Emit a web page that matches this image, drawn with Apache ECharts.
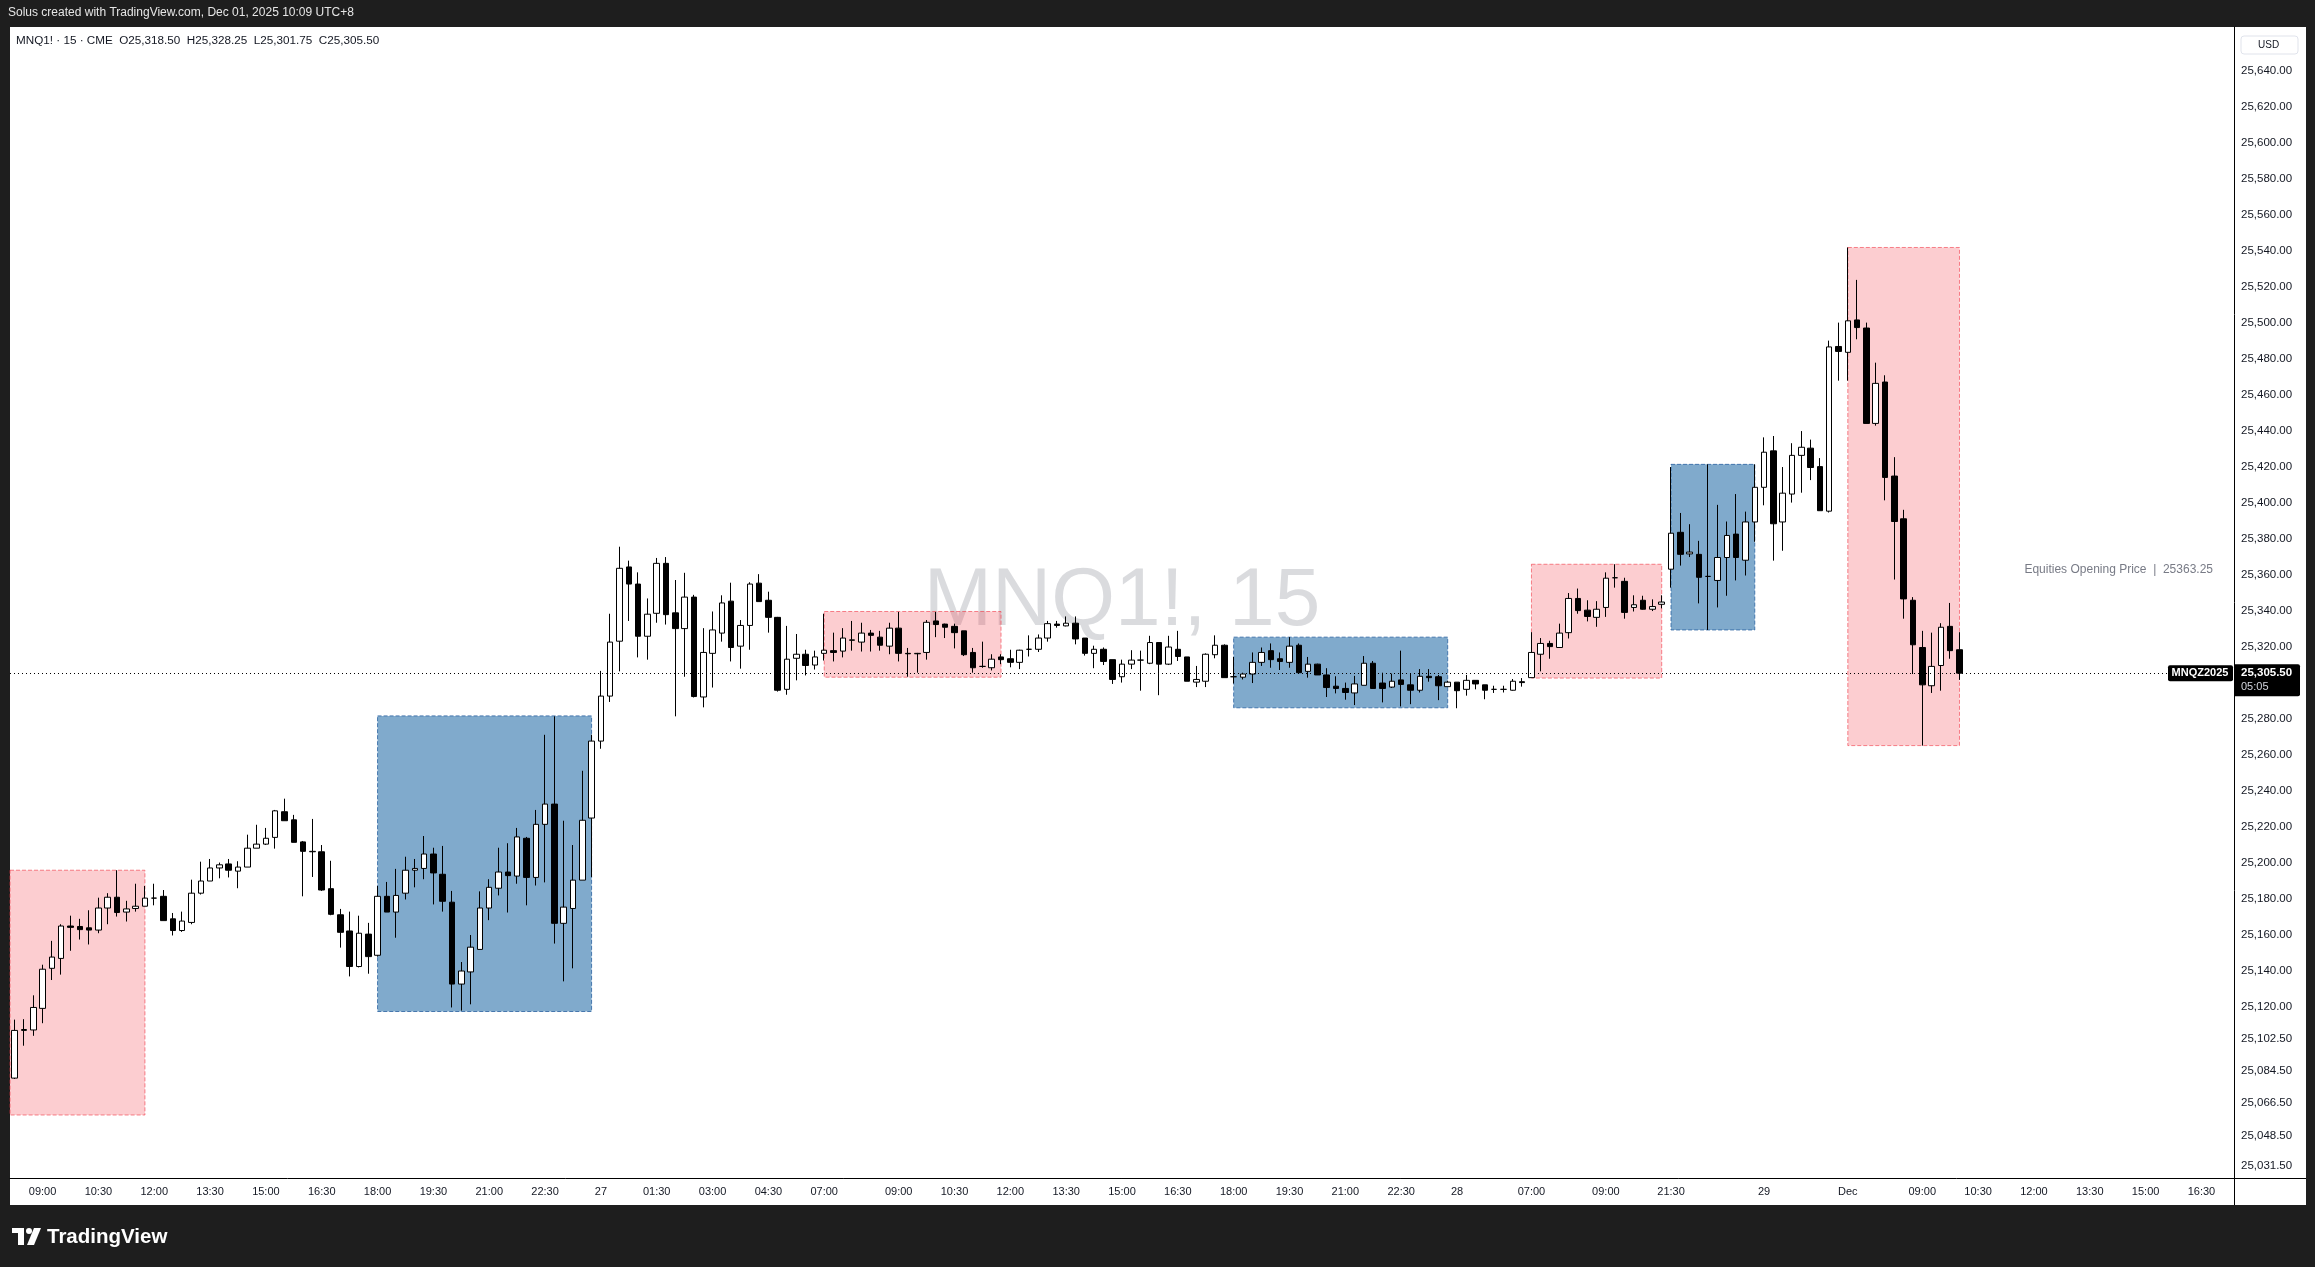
<!DOCTYPE html>
<html>
<head>
<meta charset="utf-8">
<title>MNQ1! · 15 · CME</title>
<script src="https://cdn.jsdelivr.net/npm/echarts@6/dist/echarts.min.js"></script>
<style>
  html, body { margin: 0; padding: 0; background: #1e1e1e; overflow: hidden; }
  #panel { position: absolute; left: 10px; top: 27px; width: 2296px; height: 1178px; background: #ffffff; }
  #chart { position: absolute; left: 0; top: 0; width: 2315px; height: 1267px; }
</style>
</head>
<body>
<div id="panel"></div>
<div id="chart"></div>
<script>
// trading sessions on the chart (UTC+8), 15 minute bars; last session includes empty future slots
const sessionStarts = ['2025-11-26 08:15', '2025-11-27 07:00', '2025-11-28 07:00', '2025-11-28 21:30', '2025-12-01 07:00'];
const sessionBarCounts = [87, 76, 15, 19, 42];

// OHLC per bar: [open, high, low, close]
const bars = [
  [25080.5, 25113, 25080, 25107], [25107, 25113.25, 25098.5, 25107.5], [25107.25, 25126.5, 25104, 25119.75],
  [25119.25, 25143.5, 25111, 25141], [25141.5, 25156.75, 25135, 25147.75], [25147, 25166, 25138, 25165],
  [25165, 25170.75, 25151.25, 25164.25], [25164.75, 25169, 25157.5, 25163], [25164, 25173.75, 25154.75, 25162.75],
  [25162.75, 25180.75, 25161, 25175], [25175, 25183.25, 25166, 25181], [25181, 25196, 25170.25, 25172.5],
  [25172.75, 25179, 25167.5, 25174.5], [25174.75, 25188.5, 25173, 25176], [25176, 25187.25, 25176, 25180.5],
  [25180.5, 25188.5, 25176.5, 25180.5], [25181.5, 25185, 25168, 25168], [25169, 25172.25, 25159.75, 25162.5],
  [25162.5, 25173, 25161.75, 25167.75], [25167, 25190.75, 25166, 25183.25], [25183.25, 25200.75, 25182.5, 25190],
  [25190, 25202.25, 25190, 25197.25], [25197.25, 25200.25, 25191.5, 25199], [25199.5, 25202.25, 25192, 25196],
  [25195.5, 25201, 25186, 25197.75], [25197.75, 25215.75, 25197.75, 25208.25], [25208.25, 25221.25, 25208.25, 25210.5],
  [25210.5, 25219.5, 25210, 25213.75], [25214.25, 25229.5, 25208, 25229], [25228.5, 25235.75, 25223.5, 25223.5],
  [25224, 25226.75, 25211.5, 25211.5], [25211.75, 25212.25, 25181.5, 25206.5], [25206.25, 25224.5, 25192.25, 25206.5],
  [25206.25, 25210, 25184.5, 25185], [25185.75, 25201.25, 25171, 25171.5], [25171.25, 25174.5, 25153, 25161.5],
  [25162.25, 25173, 25137, 25142.5], [25142.5, 25170.75, 25142, 25161], [25160.5, 25166.75, 25138.5, 25148],
  [25148.75, 25187.25, 25148, 25181.5], [25181.5, 25189.5, 25172.75, 25172.75], [25172.75, 25196.75, 25158.5, 25182],
  [25183.25, 25203.5, 25179.75, 25196], [25196, 25202.25, 25186.5, 25197], [25197, 25215, 25191, 25205],
  [25205, 25208.5, 25177, 25194.5], [25193.75, 25209.5, 25173, 25178.75], [25178.25, 25184.5, 25119.75, 25132.75],
  [25132.75, 25145, 25118, 25140], [25139.5, 25160, 25121.5, 25153.25], [25152, 25184.25, 25152, 25175],
  [25175, 25191, 25168.25, 25186.5], [25186, 25208.5, 25182, 25195], [25195, 25211, 25172.5, 25193],
  [25192.75, 25219.5, 25188.5, 25214.5], [25213.75, 25214.5, 25176.5, 25192], [25192, 25229.5, 25187.5, 25221.5],
  [25221.5, 25271.25, 25189.25, 25232.75], [25232.75, 25281.5, 25155.25, 25166.5], [25166.5, 25223.5, 25134.25, 25175.5],
  [25174.75, 25210, 25141.5, 25190.5], [25190.5, 25251.25, 25190.5, 25223.75], [25225, 25271.25, 25192.25, 25267.75],
  [25267.75, 25306.75, 25263.5, 25292.75], [25292.75, 25338.5, 25289.5, 25322.75], [25323.25, 25375.75, 25306.5, 25363.75],
  [25364.5, 25368, 25334.5, 25355], [25355, 25361.5, 25314.25, 25326], [25326, 25347, 25313, 25338.25],
  [25338.75, 25369.5, 25333.5, 25366.5], [25366.5, 25370, 25332.5, 25338], [25339, 25357.25, 25281.5, 25330.25],
  [25330.25, 25361.25, 25303.5, 25347.75], [25347.75, 25349, 25292, 25292.5], [25292.25, 25330.5, 25286.5, 25317],
  [25316.5, 25339.75, 25297.5, 25329.5], [25327.75, 25348.75, 25323, 25344.5], [25345.5, 25355.75, 25312, 25319.75],
  [25320.5, 25335, 25308, 25332], [25332, 25356, 25318.5, 25355], [25355.5, 25360.5, 25345.25, 25345.25],
  [25346, 25350.75, 25328, 25336.5], [25336.5, 25336.75, 25295.25, 25296], [25296.5, 25331.75, 25293.5, 25313.25],
  [25313.75, 25327.25, 25301.5, 25316], [25316, 25318.5, 25304.25, 25309.75], [25310, 25318, 25307.5, 25314.5],
  [25316.5, 25338.5, 25312.5, 25318.25], [25318, 25328, 25312, 25317], [25317.75, 25330.5, 25314.25, 25325],
  [25323.75, 25334.5, 25318, 25324], [25322.75, 25333.5, 25317.5, 25327.75], [25327.75, 25329.5, 25317.5, 25326.5],
  [25325.5, 25329, 25318, 25321], [25320.5, 25333.5, 25316, 25330.5], [25330.5, 25339.5, 25312, 25316.5],
  [25316.5, 25319.5, 25303.5, 25316.25], [25316.25, 25316.75, 25305.75, 25316.5], [25317, 25335, 25313, 25333.75],
  [25334.5, 25339.5, 25325.5, 25332.5], [25332.75, 25333, 25325, 25331], [25331.5, 25333, 25319.25, 25328],
  [25329, 25329, 25315, 25315.75], [25317, 25319.5, 25305.75, 25308.5], [25309.25, 25323, 25308.5, 25309.25],
  [25308.5, 25316, 25307, 25313.25], [25314.5, 25316, 25310.5, 25313], [25313.5, 25318.5, 25308.75, 25311.5],
  [25311.5, 25318.5, 25307.75, 25318.25], [25318.75, 25326.5, 25314.75, 25318.75], [25318.75, 25327, 25317.25, 25325],
  [25325, 25334.5, 25323, 25333], [25332.75, 25334.5, 25330.75, 25332], [25331.75, 25337, 25331.5, 25333.25],
  [25333.25, 25337, 25321.5, 25324.5], [25325, 25325, 25315.25, 25316.5], [25316.5, 25320.75, 25308.25, 25318.75],
  [25318.75, 25319.75, 25310, 25312], [25313, 25313, 25299.5, 25302], [25303.5, 25313, 25300.25, 25310.5],
  [25310.5, 25318.25, 25307.75, 25312.75], [25312.75, 25318, 25295.75, 25312.75], [25311, 25326.25, 25310.5, 25322.5],
  [25322.5, 25322.5, 25293.25, 25310.5], [25310.5, 25326.25, 25310, 25320], [25318.75, 25329, 25312.25, 25314.75],
  [25314.5, 25314.5, 25301, 25301], [25300.5, 25309.5, 25297.75, 25302], [25301, 25316.5, 25297.75, 25316],
  [25315.75, 25326.5, 25313.75, 25321], [25321, 25321.5, 25303, 25303], [25303.5, 25314.5, 25299.75, 25303.5],
  [25303.25, 25305.75, 25302, 25305], [25305, 25317, 25300, 25311.5], [25311.5, 25319.75, 25309.5, 25317],
  [25318, 25322, 25308.5, 25313], [25313.5, 25317, 25307.25, 25312], [25311.5, 25325.5, 25308.5, 25320.5],
  [25321, 25322, 25305.75, 25305.75], [25306.5, 25314.5, 25303, 25310.5], [25310.5, 25310.75, 25304.5, 25304.5],
  [25304.5, 25308.25, 25292.25, 25297.5], [25298.25, 25303.75, 25294.25, 25297], [25297, 25300.25, 25290.75, 25294.75],
  [25294.5, 25304, 25287.75, 25299.5], [25298.75, 25315, 25298.75, 25311], [25311, 25312.25, 25297, 25297],
  [25300, 25305.75, 25289.25, 25297], [25297.75, 25305.25, 25297.25, 25301], [25301.75, 25318, 25287, 25299.25],
  [25299, 25305, 25288.25, 25296], [25296, 25307.75, 25294.75, 25303.75], [25303.75, 25307.75, 25300.75, 25303],
  [25303.5, 25304.5, 25290.5, 25298.5], [25298, 25301.25, 25298, 25300.5], [25300.5, 25300.5, 25286, 25295.75],
  [25296.5, 25304.5, 25293, 25301.5], [25301.5, 25301.5, 25296.5, 25299.5], [25299, 25299, 25291, 25296],
  [25296.5, 25298.5, 25294.5, 25296.5], [25296.5, 25298.5, 25294.75, 25296.5], [25296, 25302.25, 25295.75, 25301],
  [25300.75, 25302.75, 25298, 25300.25], [25303, 25328.25, 25303, 25317], [25316, 25325, 25306.5, 25322],
  [25322, 25323.5, 25313.5, 25320.25], [25319.75, 25333, 25319.75, 25327.75], [25328, 25350, 25324.75, 25347],
  [25347, 25352.5, 25338.5, 25340.25], [25340.5, 25346, 25334.25, 25337], [25336.5, 25345.5, 25331.25, 25341],
  [25342, 25361.5, 25336.75, 25358.25], [25358.5, 25366, 25353, 25358.5], [25356.5, 25358.5, 25335.75, 25339.25],
  [25342, 25348.75, 25339.75, 25343.5], [25346, 25348.5, 25340.75, 25341], [25341, 25346.5, 25340, 25342.5],
  [25343.75, 25348.75, 25341.5, 25345], [25363.25, 25420, 25353, 25383.25], [25383.75, 25394.5, 25365.25, 25371.5],
  [25371.75, 25388.25, 25370, 25372.75], [25371.5, 25379, 25344.25, 25358.75], [25359.25, 25421.5, 25329.5, 25359.25],
  [25357, 25399, 25342, 25369.75], [25369.75, 25389.75, 25348.5, 25382], [25382.75, 25405, 25357, 25369.75],
  [25368.25, 25395.25, 25359.75, 25389.5], [25389.5, 25421.5, 25378.5, 25408.75], [25408.75, 25436.5, 25398.75, 25428.25],
  [25429, 25437.25, 25368, 25388.5], [25389.5, 25420, 25373.5, 25405.5], [25405, 25433.25, 25400.25, 25426.5],
  [25426.5, 25440, 25405.75, 25431], [25430.5, 25435.25, 25412.75, 25419.75], [25420.25, 25425, 25395.75, 25395.75],
  [25395.5, 25490.25, 25394.75, 25486.75], [25487, 25500.25, 25468, 25484.25], [25483.75, 25542, 25468, 25501.25],
  [25501.75, 25524, 25491, 25497.5], [25497.25, 25500.25, 25444.25, 25444.25], [25444.25, 25478, 25443, 25466.5],
  [25467.25, 25471, 25401.5, 25414.25], [25415, 25425.5, 25357.5, 25389.75], [25391.25, 25396.25, 25335.75, 25346.75],
  [25346, 25347.75, 25305, 25321.25], [25319.75, 25329, 25265.25, 25299], [25298.5, 25328, 25294.5, 25309.25],
  [25309.75, 25333.25, 25295.75, 25331], [25331.5, 25344.5, 25313.5, 25318], [25318.5, 25328.25, 25301.75, 25305.5]
];

// time axis labels shown under the chart
const xTickLabels = [
  ['11-26 09:00', '09:00'], ['11-26 10:30', '10:30'], ['11-26 12:00', '12:00'], ['11-26 13:30', '13:30'],
  ['11-26 15:00', '15:00'], ['11-26 16:30', '16:30'], ['11-26 18:00', '18:00'], ['11-26 19:30', '19:30'],
  ['11-26 21:00', '21:00'], ['11-26 22:30', '22:30'], ['11-27 00:00', '27'], ['11-27 01:30', '01:30'],
  ['11-27 03:00', '03:00'], ['11-27 04:30', '04:30'], ['11-27 07:00', '07:00'], ['11-27 09:00', '09:00'],
  ['11-27 10:30', '10:30'], ['11-27 12:00', '12:00'], ['11-27 13:30', '13:30'], ['11-27 15:00', '15:00'],
  ['11-27 16:30', '16:30'], ['11-27 18:00', '18:00'], ['11-27 19:30', '19:30'], ['11-27 21:00', '21:00'],
  ['11-27 22:30', '22:30'], ['11-28 00:00', '28'], ['11-28 07:00', '07:00'], ['11-28 09:00', '09:00'],
  ['11-28 21:30', '21:30'], ['11-29 00:00', '29'], ['12-01 07:00', 'Dec'], ['12-01 09:00', '09:00'],
  ['12-01 10:30', '10:30'], ['12-01 12:00', '12:00'], ['12-01 13:30', '13:30'], ['12-01 15:00', '15:00'],
  ['12-01 16:30', '16:30']
];

// price scale labels
const priceTicks = [25031.5, 25048.5, 25066.5, 25084.5, 25102.5, 25120, 25140, 25160, 25180, 25200, 25220,
  25240, 25260, 25280, 25320, 25340, 25360, 25380, 25400, 25420, 25440, 25460, 25480, 25500, 25520, 25540,
  25560, 25580, 25600, 25620, 25640];
const priceMin = 25025;
const priceMax = 25664.5;

// session boxes (null start = begins before the visible range)
const boxStarts = [null, '11-26 18:00', '11-27 07:00', '11-27 18:00', '11-28 07:00', '11-28 21:30', '12-01 07:00'];
const boxEnds = ['11-26 11:45', '11-26 23:45', '11-27 11:45', '11-27 23:45', '11-28 10:30', '11-28 23:45', '12-01 10:00'];
const boxLows = [25060, 25117.5, 25303.25, 25286.25, 25302.75, 25329.5, 25265.25];
const boxHighs = [25196, 25281.75, 25339.75, 25325.5, 25366, 25421.5, 25542];
const boxKinds = ['pink', 'blue', 'pink', 'blue', 'pink', 'blue', 'pink'];

const equitiesOpen = 25363.25;

const FONT = '"Liberation Sans", Arial, sans-serif';

function pad(n) { return (n < 10 ? '0' : '') + n; }

function buildCategories() {
  const cats = [];
  sessionStarts.forEach((s, k) => {
    const parts = s.split(/[- :]/).map(Number);
    let ms = Date.UTC(parts[0], parts[1] - 1, parts[2], parts[3], parts[4]);
    for (let n = 0; n < sessionBarCounts[k]; n++) {
      const dt = new Date(ms);
      cats.push(pad(dt.getUTCMonth() + 1) + '-' + pad(dt.getUTCDate()) + ' ' + pad(dt.getUTCHours()) + ':' + pad(dt.getUTCMinutes()));
      ms += 15 * 60000;
    }
  });
  return cats;
}

function fmtPrice(v) {
  const s = Number(v).toFixed(2).split('.');
  return s[0].replace(/\B(?=(\d{3})+(?!\d))/g, ',') + '.' + s[1];
}

const categories = buildCategories();
const tickText = new Map(xTickLabels);
const candleData = bars.map(b => [b[0], b[3], b[2], b[1]]);
const last = bars[bars.length - 1];

const boxStyles = {
  pink: { color: 'rgba(242, 54, 69, 0.25)', borderColor: 'rgba(242, 54, 69, 0.6)' },
  blue: { color: 'rgba(74, 134, 183, 0.7)', borderColor: 'rgba(41, 98, 160, 0.8)' }
};
const boxAreas = boxStarts.map((s, k) => {
  const st = boxStyles[boxKinds[k]];
  const lt = { yAxis: boxHighs[k], itemStyle: { color: st.color, borderColor: st.borderColor, borderWidth: 1, borderType: 'dashed' } };
  if (s) lt.xAxis = s;
  return [lt, { xAxis: boxEnds[k], yAxis: boxLows[k] }];
});

const headerText = 'MNQ1! \u00b7 15 \u00b7 CME  O' + fmtPrice(last[0]) + '  H' + fmtPrice(last[1]) +
  '  L' + fmtPrice(last[2]) + '  C' + fmtPrice(last[3]);

const chartDom = document.getElementById('chart');
const myChart = echarts.init(chartDom, null, { renderer: 'canvas' });

const option = {
  backgroundColor: 'transparent',
  animation: false,
  grid: { left: 10, right: 81, top: 27, bottom: 89, containLabel: false },
  xAxis: {
    type: 'category',
    data: categories,
    boundaryGap: true,
    axisLine: { show: true, lineStyle: { color: '#000000', width: 1 } },
    axisTick: { show: false },
    splitLine: { show: false },
    axisLabel: {
      interval: (idx, value) => tickText.has(value),
      formatter: value => tickText.get(value) || '',
      color: '#131722',
      fontSize: 11,
      fontFamily: FONT,
      margin: 8
    }
  },
  yAxis: {
    type: 'value',
    position: 'right',
    min: priceMin,
    max: priceMax,
    axisLine: { show: true, lineStyle: { color: '#000000', width: 1 } },
    axisTick: { show: false },
    splitLine: { show: false },
    axisLabel: {
      customValues: priceTicks,
      formatter: v => fmtPrice(v),
      color: '#131722',
      fontSize: 11.5,
      fontFamily: FONT,
      margin: 7
    }
  },
  graphic: {
    elements: [
      { type: 'text', id: 'credit', x: 8, y: 13, z: 10,
        style: { text: 'Solus created with TradingView.com, Dec 01, 2025 10:09 UTC+8', fill: '#e6e6e6', font: '12px ' + FONT, textVerticalAlign: 'middle' } },
      { type: 'text', id: 'ohlc', x: 16, y: 41, z: 10,
        style: { text: headerText, fill: '#131722', font: '11.7px ' + FONT, textVerticalAlign: 'middle' } },
      { type: 'text', id: 'watermark', x: 1122, y: 602, z: 0,
        style: { text: 'MNQ1!, 15', fill: 'rgba(120, 123, 134, 0.27)', font: '82px ' + FONT, textAlign: 'center', textVerticalAlign: 'middle' } },
      { type: 'rect', id: 'usdBox', z: 10, shape: { x: 2241, y: 36, width: 57, height: 18, r: 3 },
        style: { fill: '#ffffff', stroke: '#e0e3eb', lineWidth: 1 } },
      { type: 'text', id: 'usd', x: 2258, y: 45, z: 11,
        style: { text: 'USD', fill: '#131722', font: '10px ' + FONT, textVerticalAlign: 'middle' } },
      { type: 'line', id: 'yAxisExt', z: 10, shape: { x1: 2234.5, y1: 1178, x2: 2234.5, y2: 1205 },
        style: { stroke: '#000000', lineWidth: 1 } },
      { type: 'line', id: 'xAxisExt', z: 10, shape: { x1: 2234, y1: 1178.5, x2: 2306, y2: 1178.5 },
        style: { stroke: '#000000', lineWidth: 1 } },
      { type: 'rect', id: 'logoBar', z: 10, shape: { x: 12, y: 1228, width: 12, height: 5 }, style: { fill: '#ffffff' } },
      { type: 'rect', id: 'logoStem', z: 10, shape: { x: 18, y: 1228, width: 6, height: 17 }, style: { fill: '#ffffff' } },
      { type: 'circle', id: 'logoDot', z: 10, shape: { cx: 29, cy: 1231, r: 3 }, style: { fill: '#ffffff' } },
      { type: 'polygon', id: 'logoSlash', z: 10, shape: { points: [[34, 1228], [41, 1228], [34, 1245], [27, 1245]] }, style: { fill: '#ffffff' } },
      { type: 'text', id: 'logoText', x: 47, y: 1237, z: 10,
        style: { text: 'TradingView', fill: '#ffffff', font: 'bold 20.5px ' + FONT, textVerticalAlign: 'middle' } }
    ]
  },
  series: [
    {
      name: 'MNQ1!',
      type: 'candlestick',
      z: 3,
      barWidth: 6,
      data: candleData,
      itemStyle: {
        color: '#ffffff',
        color0: '#000000',
        borderColor: '#000000',
        borderColor0: '#000000',
        borderWidth: 1
      },
      markArea: {
        silent: true,
        data: boxAreas
      },
      markLine: {
        silent: true,
        symbol: 'none',
        label: { show: false },
        lineStyle: { color: '#000000', type: [1, 3], width: 1 },
        data: [{ yAxis: last[3] }]
      }
    }
  ]
};

myChart.setOption(option);

// labels tied to price levels
const yLast = myChart.convertToPixel({ yAxisIndex: 0 }, last[3]);
const yEq = myChart.convertToPixel({ yAxisIndex: 0 }, equitiesOpen);
myChart.setOption({
  graphic: {
    elements: [
      { type: 'text', id: 'eqText', x: 2213, y: yEq, z: 10,
        style: { text: 'Equities Opening Price  |  ' + equitiesOpen.toFixed(2), fill: '#787b86', font: '12px ' + FONT, textAlign: 'right', textVerticalAlign: 'middle' } },
      { type: 'rect', id: 'symBox', z: 10, shape: { x: 2168, y: yLast - 8, width: 65, height: 16, r: 2 }, style: { fill: '#000000' } },
      { type: 'text', id: 'symText', x: 2200, y: yLast, z: 11,
        style: { text: 'MNQZ2025', fill: '#ffffff', font: 'bold 11px ' + FONT, textAlign: 'center', textVerticalAlign: 'middle' } },
      { type: 'rect', id: 'priceBox', z: 10, shape: { x: 2234, y: yLast - 9, width: 66, height: 32, r: [0, 2, 2, 0] }, style: { fill: '#000000' } },
      { type: 'text', id: 'priceText', x: 2241, y: yLast, z: 11,
        style: { text: fmtPrice(last[3]), fill: '#ffffff', font: 'bold 11.5px ' + FONT, textVerticalAlign: 'middle' } },
      { type: 'text', id: 'timerText', x: 2241, y: yLast + 14, z: 11,
        style: { text: '05:05', fill: '#d1d4dc', font: '11px ' + FONT, textVerticalAlign: 'middle' } }
    ]
  }
});

window.addEventListener('resize', () => {
  myChart.resize();
});
</script>
</body>
</html>
